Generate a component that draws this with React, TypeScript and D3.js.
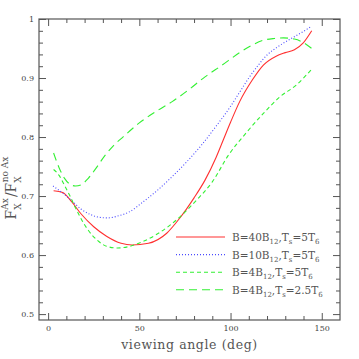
import React, { useRef, useEffect } from "react";
import * as d3 from "d3";

// viewing angle (deg) and flux ratio for each model
const angB40 = [3, 8, 13, 18, 25, 32, 40, 46, 55, 65, 72, 80, 86, 92, 96, 100, 105, 112, 118, 125, 130, 135, 140, 144.5];
const valB40 = [0.709, 0.706, 0.690, 0.670, 0.648, 0.632, 0.620, 0.617, 0.620, 0.637, 0.662, 0.697, 0.727, 0.765, 0.795, 0.825, 0.860, 0.897, 0.922, 0.937, 0.943, 0.948, 0.960, 0.980];

const angB10 = [2.7, 8, 13, 18, 23, 28, 33, 38, 45, 52, 60, 68, 76, 84, 92, 100, 105, 110, 115, 120, 125, 130, 135, 140, 144.5];
const valB10 = [0.717, 0.705, 0.692, 0.678, 0.669, 0.664, 0.663, 0.666, 0.674, 0.690, 0.710, 0.733, 0.758, 0.786, 0.818, 0.852, 0.876, 0.900, 0.921, 0.939, 0.951, 0.961, 0.970, 0.979, 0.988];

const angB4 = [3, 6, 9, 12, 15, 18, 22, 27, 32, 38, 45, 52, 60, 72, 81, 90, 99, 108, 118, 127, 136, 144.5];
const valB4 = [0.745, 0.735, 0.718, 0.700, 0.680, 0.662, 0.642, 0.625, 0.615, 0.612, 0.615, 0.623, 0.636, 0.664, 0.692, 0.724, 0.770, 0.805, 0.840, 0.868, 0.888, 0.915];

const angB4lowT = [3, 6, 9, 12, 15, 18, 22, 26, 31, 36, 41, 50, 59, 68, 77, 86, 95, 105, 112, 118, 124, 129, 135, 140, 144.5];
const valB4lowT = [0.773, 0.748, 0.730, 0.720, 0.717, 0.719, 0.730, 0.746, 0.768, 0.786, 0.800, 0.824, 0.843, 0.860, 0.880, 0.902, 0.921, 0.943, 0.956, 0.964, 0.967, 0.968, 0.966, 0.960, 0.950];

const xMajor = [0, 50, 100, 150];
const yMajor = [0.5, 0.6, 0.7, 0.8, 0.9, 1];

const series = [
  { ang: angB40, val: valB40, color: "#ff3030", dash: null, b: "40", t: "5" },
  { ang: angB10, val: valB10, color: "#4a4aff", dash: "1,2", b: "10", t: "5" },
  { ang: angB4, val: valB4, color: "#33f033", dash: "4,3", b: "4", t: "5" },
  { ang: angB4lowT, val: valB4lowT, color: "#33f033", dash: "8,5", b: "4", t: "2.5" },
];

const W = 359, H = 359;
const m = { left: 39, right: 340, top: 19, bottom: 320 };
const SERIF = "'DejaVu Serif', serif";

const App = () => {
  const ref = useRef<SVGSVGElement>(null);

  useEffect(() => {
    const svg = d3.select(ref.current);
    svg.selectAll("*").remove();

    const x = d3.scaleLinear().domain([-5, 160]).range([m.left, m.right]);
    const y = d3.scaleLinear().domain([0.49, 1]).range([m.bottom, m.top]);

    const xMinor = d3.range(10, 160, 10).filter(d => !xMajor.includes(d));
    const yMinor = d3.range(0.52, 1, 0.02).filter(d => !yMajor.some(v => Math.abs(v - d) < 1e-6));

    const axisColor = "#555";
    const styleAxis = (g) => {
      g.select(".domain").remove();
      g.selectAll("line").attr("stroke", axisColor);
      g.selectAll("text").attr("fill", "#444").style("font-family", SERIF).style("font-size", "8px");
    };

    // bottom / top
    svg.append("g").attr("transform", `translate(0,${m.bottom})`)
      .call(d3.axisBottom(x).tickValues(xMajor).tickSizeInner(-7).tickSizeOuter(0).tickPadding(5)).call(styleAxis);
    svg.append("g").attr("transform", `translate(0,${m.bottom})`)
      .call(d3.axisBottom(x).tickValues(xMinor).tickSizeInner(-4).tickSizeOuter(0).tickFormat(() => "")).call(styleAxis);
    svg.append("g").attr("transform", `translate(0,${m.top})`)
      .call(d3.axisTop(x).tickValues(xMajor).tickSizeInner(-7).tickSizeOuter(0).tickFormat(() => "")).call(styleAxis);
    svg.append("g").attr("transform", `translate(0,${m.top})`)
      .call(d3.axisTop(x).tickValues(xMinor).tickSizeInner(-4).tickSizeOuter(0).tickFormat(() => "")).call(styleAxis);

    // left / right
    svg.append("g").attr("transform", `translate(${m.left},0)`)
      .call(d3.axisLeft(y).tickValues(yMajor).tickSizeInner(-7).tickSizeOuter(0).tickPadding(5).tickFormat(d3.format("~g"))).call(styleAxis);
    svg.append("g").attr("transform", `translate(${m.left},0)`)
      .call(d3.axisLeft(y).tickValues(yMinor).tickSizeInner(-4).tickSizeOuter(0).tickFormat(() => "")).call(styleAxis);
    svg.append("g").attr("transform", `translate(${m.right},0)`)
      .call(d3.axisRight(y).tickValues(yMajor).tickSizeInner(-7).tickSizeOuter(0).tickFormat(() => "")).call(styleAxis);
    svg.append("g").attr("transform", `translate(${m.right},0)`)
      .call(d3.axisRight(y).tickValues(yMinor).tickSizeInner(-4).tickSizeOuter(0).tickFormat(() => "")).call(styleAxis);

    // frame
    svg.append("rect")
      .attr("x", m.left).attr("y", m.top)
      .attr("width", m.right - m.left).attr("height", m.bottom - m.top)
      .attr("fill", "none").attr("stroke", axisColor).attr("stroke-width", 1.2);

    // curves
    const line = d3.line<[number, number]>()
      .x(d => x(d[0])).y(d => y(d[1]))
      .curve(d3.curveMonotoneX);

    series.forEach(s => {
      svg.append("path")
        .datum(s.ang.map((a, i) => [a, s.val[i]] as [number, number]))
        .attr("d", line)
        .attr("fill", "none")
        .attr("stroke", s.color)
        .attr("stroke-width", 1.1)
        .attr("stroke-dasharray", s.dash);
    });

    // legend
    const leg = svg.append("g").style("font-family", SERIF).attr("fill", "#555");
    series.forEach((s, i) => {
      const ly = 237 + i * 17.6;
      leg.append("line")
        .attr("x1", 176).attr("x2", 225).attr("y1", ly).attr("y2", ly)
        .attr("stroke", s.color).attr("stroke-width", 1.1)
        .attr("stroke-dasharray", s.dash);
      const t = leg.append("text").attr("x", 232).attr("y", ly + 4).style("font-size", "10.5px");
      t.append("tspan").text(`B=${s.b}B`);
      t.append("tspan").attr("dy", 3).style("font-size", "7px").text("12");
      t.append("tspan").attr("dy", -3).text(",T");
      t.append("tspan").attr("dy", 3).style("font-size", "7px").text("s");
      t.append("tspan").attr("dy", -3).text(`=${s.t}T`);
      t.append("tspan").attr("dy", 3).style("font-size", "7px").text("6");
    });

    // x title
    svg.append("text")
      .attr("x", (m.left + m.right) / 2).attr("y", 349)
      .attr("text-anchor", "middle")
      .attr("fill", "#555")
      .style("font-family", SERIF).style("font-size", "12.5px")
      .style("letter-spacing", "0.6px")
      .text("viewing angle (deg)");

    // y title: F_X^Ax / F_X^no Ax
    const yt = svg.append("g")
      .attr("transform", `translate(16,${(m.top + m.bottom) / 2}) rotate(-90)`)
      .style("font-family", SERIF).attr("fill", "#555");
    const t = yt.append("text").attr("x", -50).attr("y", 0).style("font-size", "14px");
    t.append("tspan").text("F");
    t.append("tspan").attr("dy", 5).style("font-size", "9px").text("X");
    t.append("tspan").attr("dx", -6).attr("dy", -13).style("font-size", "9px").text("Ax");
    t.append("tspan").attr("dx", 1).attr("dy", 8).text("/F");
    t.append("tspan").attr("dy", 5).style("font-size", "9px").text("X");
    t.append("tspan").attr("dx", -6).attr("dy", -13).style("font-size", "9px").text("no Ax");
  }, []);

  return (
    <svg ref={ref} width={W} height={H}
      style={{ position: "absolute", left: 0, top: 0, background: "#fff" }} />
  );
};

export default App;
